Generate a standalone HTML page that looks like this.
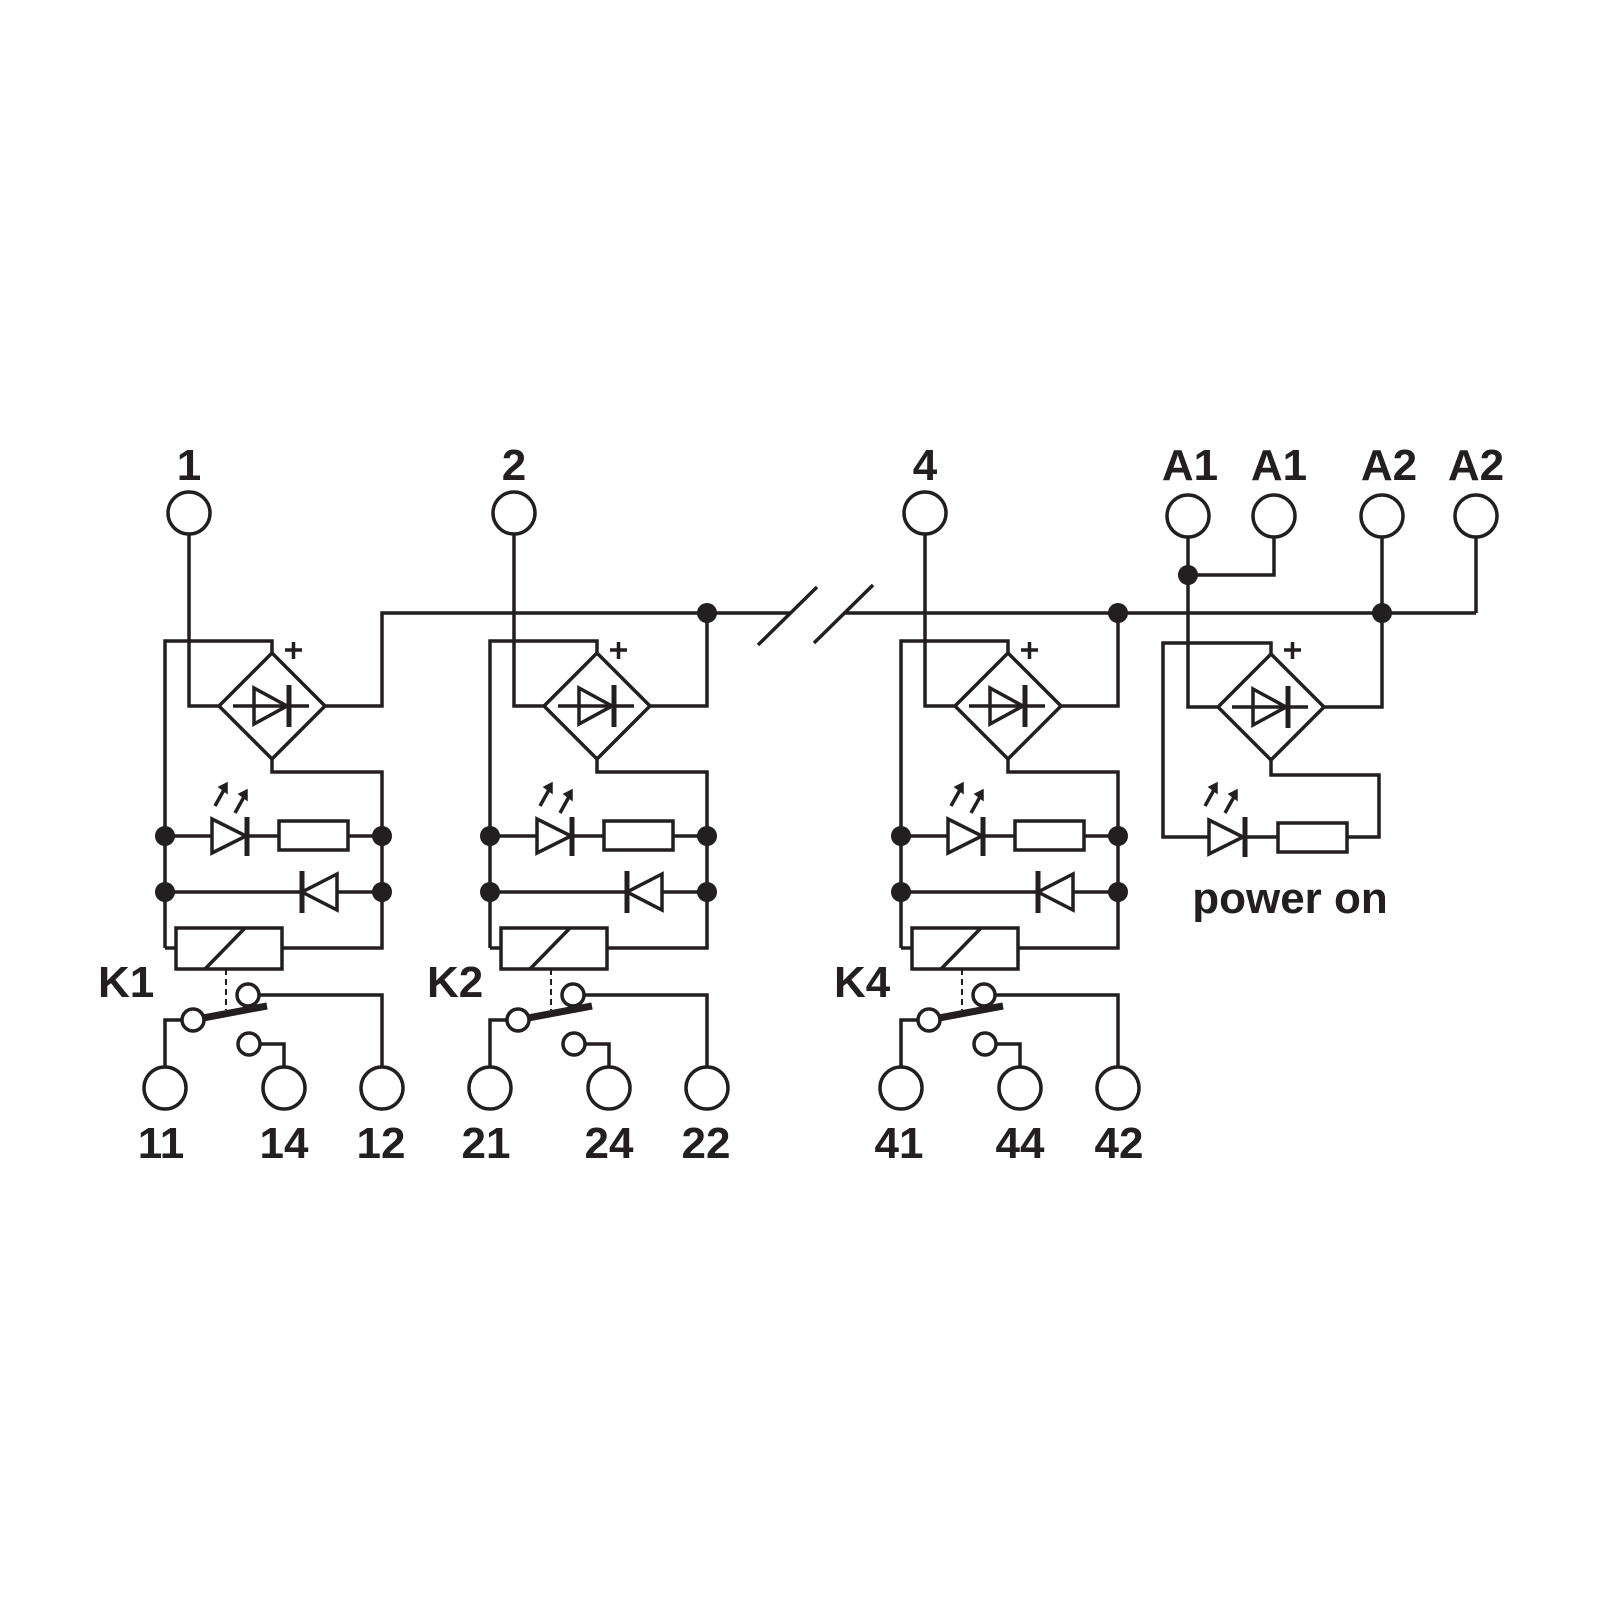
<!DOCTYPE html>
<html><head><meta charset="utf-8"><style>
html,body{margin:0;padding:0;background:#fff}
svg{display:block}
text{font-family:"Liberation Sans",Arial,sans-serif;font-weight:bold;fill:#231f20}
</style></head><body>
<svg width="1600" height="1600" viewBox="0 0 1600 1600" xmlns="http://www.w3.org/2000/svg">
<defs>
<g id="mod" fill="none" stroke="#231f20" stroke-width="3.5">
  <circle cx="189" cy="513" r="21"/>
  <polyline points="189,534 189,706 219,706"/>
  <polyline points="165,948 165,641 272,641 272,653"/>
  <polygon points="272,653 325,706 272,759 219,706"/>
  <line x1="233" y1="706" x2="309" y2="706"/>
  <polygon points="254,688 287,706 254,724"/>
  <line x1="289" y1="685" x2="289" y2="727" stroke-width="5"/>
  <path d="M285,650h17M293.5,642v17" stroke-width="3.5"/>
  <polyline points="272,759 272,772 382,772 382,948 282,948"/>
  <line x1="165" y1="948" x2="176" y2="948"/>
  <line x1="165" y1="836" x2="212" y2="836"/>
  <polygon points="212,819 246,836 212,853"/>
  <line x1="247" y1="817" x2="247" y2="856" stroke-width="5"/>
  <line x1="247" y1="836" x2="279" y2="836"/>
  <rect x="279" y="821" width="69" height="29"/>
  <line x1="348" y1="836" x2="382" y2="836"/>
  <line x1="165" y1="892" x2="302" y2="892"/>
  <polygon points="337,874 302,892 337,910"/>
  <line x1="302" y1="871" x2="302" y2="913" stroke-width="5"/>
  <line x1="337" y1="892" x2="382" y2="892"/>
  <rect x="176" y="928" width="106" height="41"/>
  <line x1="205" y1="969" x2="245" y2="928"/>
  <line x1="226" y1="969" x2="226" y2="1010" stroke-width="2" stroke-dasharray="6,4"/>
  <path d="M215,806 L225,788 M235,813 L245,795" stroke-width="3.5"/>
  <path d="M219,787 L227,783 L227,793 Z M239,794 L247,790 L247,800 Z" fill="#231f20" stroke-width="1.5"/>
  <circle cx="248" cy="995" r="11"/>
  <polyline points="259,995 382,995 382,1067"/>
  <circle cx="193" cy="1020" r="11"/>
  <polyline points="182,1020 165,1020 165,1067"/>
  <line x1="203" y1="1018" x2="267" y2="1006" stroke-width="7"/>
  <circle cx="249" cy="1044" r="11"/>
  <polyline points="260,1044 284,1044 284,1067"/>
  <circle cx="165" cy="1088" r="21"/>
  <circle cx="284" cy="1088" r="21"/>
  <circle cx="382" cy="1088" r="21"/>
  <g fill="#231f20" stroke="none">
    <circle cx="165" cy="836" r="10"/><circle cx="382" cy="836" r="10"/>
    <circle cx="165" cy="892" r="10"/><circle cx="382" cy="892" r="10"/>
  </g>
</g>
</defs>
<use href="#mod"/>
<use href="#mod" transform="translate(325,0)"/>
<use href="#mod" transform="translate(736,0)"/>
<g fill="none" stroke="#231f20" stroke-width="3.5">
  <polyline points="325,706 382,706 382,613 790,613"/>
  <polyline points="650,706 707,706 707,613"/>
  <polyline points="1061,706 1118,706 1118,613"/>
  <line x1="845" y1="613" x2="1476" y2="613"/>
  <line x1="758" y1="645" x2="817" y2="587"/>
  <line x1="814" y1="643" x2="873" y2="585"/>
  <circle cx="1188" cy="516" r="21"/><circle cx="1274" cy="516" r="21"/>
  <circle cx="1382" cy="516" r="21"/><circle cx="1476" cy="516" r="21"/>
  <polyline points="1188,537 1188,707 1218,707"/>
  <polyline points="1188,575 1274,575 1274,537"/>
  <polyline points="1382,537 1382,707 1324,707"/>
  <polyline points="1476,537 1476,613"/>
  <polygon points="1271,654 1324,707 1271,760 1218,707"/>
  <line x1="1232" y1="707" x2="1308" y2="707"/>
  <polygon points="1253,689 1286,707 1253,725"/>
  <line x1="1288" y1="686" x2="1288" y2="728" stroke-width="5"/>
  <path d="M1284,650h17M1292.5,642v17" stroke-width="3.5"/>
  <polyline points="1271,654 1271,643 1163,643 1163,837 1209,837"/>
  <polyline points="1271,760 1271,775 1379,775 1379,837 1347,837"/>
  <polygon points="1209,820 1243,837 1209,854"/>
  <line x1="1245" y1="817" x2="1245" y2="857" stroke-width="5"/>
  <line x1="1245" y1="837" x2="1278" y2="837"/>
  <rect x="1278" y="823" width="69" height="29"/>
  <path d="M1205,806 L1215,788 M1225,813 L1235,795" stroke-width="3.5"/>
  <path d="M1209,787 L1217,783 L1217,793 Z M1229,794 L1237,790 L1237,800 Z" fill="#231f20" stroke-width="1.5"/>
  <g fill="#231f20" stroke="none">
    <circle cx="707" cy="613" r="10"/><circle cx="1118" cy="613" r="10"/>
    <circle cx="1382" cy="613" r="10"/><circle cx="1188" cy="575" r="10"/>
  </g>
</g>
<g font-size="44" text-anchor="middle">
  <text x="189" y="480">1</text>
  <text x="514" y="480">2</text>
  <text x="925" y="480">4</text>
  <text x="1190" y="480">A1</text>
  <text x="1279" y="480">A1</text>
  <text x="1389" y="480">A2</text>
  <text x="1476" y="480">A2</text>
  <text x="161" y="1158">11</text><text x="284" y="1158">14</text><text x="381" y="1158">12</text>
  <text x="486" y="1158">21</text><text x="609" y="1158">24</text><text x="706" y="1158">22</text>
  <text x="899" y="1158">41</text><text x="1020" y="1158">44</text><text x="1119" y="1158">42</text>
  <text x="1290" y="913" font-size="44">power on</text>
</g>
<g font-size="44">
  <text x="98" y="997">K1</text>
  <text x="427" y="997">K2</text>
  <text x="834" y="997">K4</text>
</g>
</svg>
</body></html>
